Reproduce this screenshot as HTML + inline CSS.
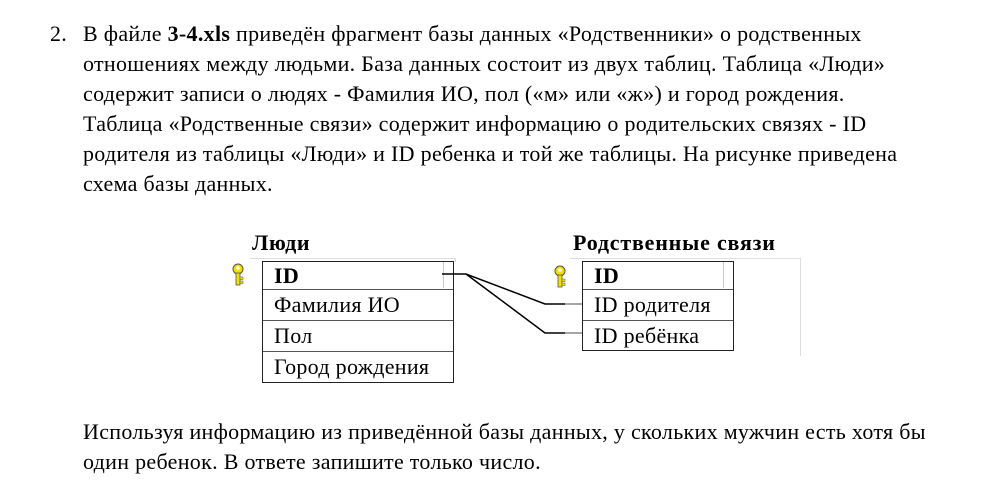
<!DOCTYPE html>
<html><head><meta charset="utf-8"><style>
body{margin:0;width:986px;height:481px;background:#fff;position:relative;overflow:hidden;font-family:"Liberation Serif",serif;color:#000}
.l{position:absolute;left:83px;font-size:22px;letter-spacing:0.3px;white-space:nowrap;line-height:30px}
.c{position:absolute;font-size:22px;letter-spacing:0.3px;white-space:nowrap;line-height:30px}
.t{position:absolute;border:1.5px solid #222;box-sizing:border-box;background:#fff}
.r{position:absolute;left:0;right:0;border-top:1.5px solid #555;font-size:22px;letter-spacing:0.3px;padding-left:11px;line-height:30px;box-sizing:border-box;white-space:nowrap}
</style></head><body>
<div class="c" style="left:50px;top:19px">2.</div>
<div class="l" style="top:19px">В файле <b>3-4.xls</b> приведён фрагмент базы данных «Родственники» о родственных</div>
<div class="l" style="top:49px">отношениях между людьми. База данных состоит из двух таблиц. Таблица «Люди»</div>
<div class="l" style="top:79px">содержит записи о людях - Фамилия ИО, пол («м» или «ж») и город рождения.</div>
<div class="l" style="top:109px">Таблица «Родственные связи» содержит информацию о родительских связях - ID</div>
<div class="l" style="top:139px">родителя из таблицы «Люди» и ID ребенка и той же таблицы. На рисунке приведена</div>
<div class="l" style="top:169px">схема базы данных.</div>

<div class="c" style="left:252px;top:228px;font-weight:bold;letter-spacing:0.6px">Люди</div>
<div style="position:absolute;left:250px;top:258px;width:205px;border-top:1px solid #ddd;border-right:1px solid #ddd;height:3px"></div>
<div class="c" style="left:573px;top:228px;font-weight:bold;letter-spacing:0.8px">Родственные связи</div>
<div style="position:absolute;left:570px;top:258px;width:230px;border-top:1px solid #ddd;border-right:1px solid #ddd;height:97px"></div>

<div class="t" style="left:262px;top:261px;width:192px;height:122px">
<div class="r" style="top:-1px;border-top:none;font-weight:bold">ID</div>
<div class="r" style="top:27px">Фамилия ИО</div>
<div class="r" style="top:58px">Пол</div>
<div class="r" style="top:89px">Город рождения</div>
<div style="position:absolute;left:180px;top:0;height:26px;border-left:1px solid #ccc"></div>
</div>
<div class="t" style="left:582px;top:261px;width:152px;height:90px">
<div class="r" style="top:-1px;border-top:none;font-weight:bold">ID</div>
<div class="r" style="top:27px">ID родителя</div>
<div class="r" style="top:58px">ID ребёнка</div>
<div style="position:absolute;left:140px;top:0;height:26px;border-left:1px solid #ccc"></div>
</div>

<svg style="position:absolute;left:0;top:0" width="986" height="481">
<g fill="none" stroke="#000" stroke-width="1.5">
<polyline points="442,274 466,274 545,304 565,304"/>
<polyline points="466,274 545,333 565,333"/>
</g>
<g stroke="#888" stroke-width="1.5"><line x1="565" y1="304" x2="582" y2="304"/><line x1="565" y1="333" x2="582" y2="333"/></g>
<g id="k">
<circle cx="238" cy="269" r="5" fill="#f0e000" stroke="#555" stroke-width="1"/>
<circle cx="238" cy="268" r="1.8" fill="#fff"/>
<rect x="236" y="273" width="4" height="12" fill="#f0e000" stroke="#555" stroke-width="0.8"/>
<rect x="240" y="277" width="3" height="2.5" fill="#f0e000" stroke="#555" stroke-width="0.5"/>
<rect x="240" y="281" width="3" height="2.5" fill="#f0e000" stroke="#555" stroke-width="0.5"/>
</g>
<use href="#k" transform="translate(322,2)"/>
</svg>

<div class="l" style="top:417px">Используя информацию из приведённой базы данных, у скольких мужчин есть хотя бы</div>
<div class="l" style="top:447px">один ребенок. В ответе запишите только число.</div>
</body></html>
